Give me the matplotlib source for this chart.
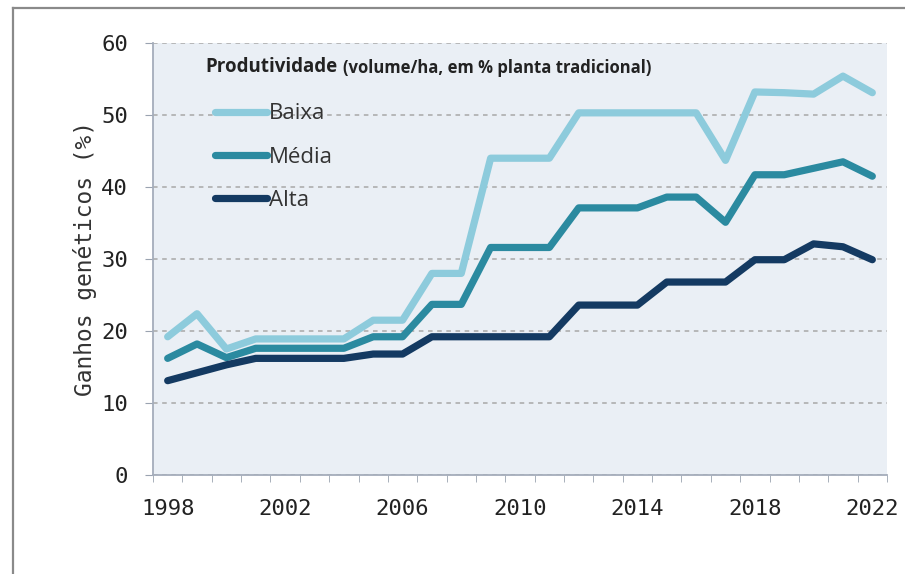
import matplotlib.pyplot as plt
from matplotlib.lines import Line2D
from matplotlib.ticker import MultipleLocator

years = list(range(1998, 2023))
baixa = [19.2, 22.4, 17.5, 18.9, 18.9, 18.9, 18.9, 21.5, 21.5, 28.0, 28.0,
         44.0, 44.0, 44.0, 50.3, 50.3, 50.3, 50.3, 50.3, 43.7, 53.2, 53.1,
         52.9, 55.4, 53.1]
media = [16.2, 18.2, 16.3, 17.6, 17.6, 17.6, 17.6, 19.2, 19.2, 23.7, 23.7,
         31.6, 31.6, 31.6, 37.1, 37.1, 37.1, 38.6, 38.6, 35.1, 41.7, 41.7,
         42.6, 43.5, 41.5]
alta = [13.1, 14.2, 15.3, 16.2, 16.2, 16.2, 16.2, 16.8, 16.8, 19.2, 19.2,
        19.2, 19.2, 19.2, 23.6, 23.6, 23.6, 26.8, 26.8, 26.8, 29.9, 29.9,
        32.1, 31.7, 29.9]
series = [("Baixa", baixa, "#8dcbdc"), ("Média", media, "#2b8aa0"), ("Alta", alta, "#143a62")]
xlabels = [1998, 2002, 2006, 2010, 2014, 2018, 2022]

fig = plt.figure(figsize=(9.05, 5.74), dpi=100)
ax = fig.add_axes([153 / 905, 1 - 475 / 574, 734 / 905, 432 / 574])
ax.set_facecolor("#eaeff5")

for name, vals, col in series:
    ax.plot(years, vals, color=col, lw=5.2, label=name,
            solid_joinstyle="round", solid_capstyle="round")

ax.set_xlim(1997.5, 2022.5)
ax.set_ylim(0, 60)
ax.set_xticks(xlabels)
ax.xaxis.set_minor_locator(MultipleLocator(1, offset=0.5))
ax.yaxis.set_major_locator(MultipleLocator(10))
ax.grid(axis="y", color="#a8a8a8", lw=1.1, ls=(0, (3, 3)))
ax.set_axisbelow(True)

mono = "DejaVu Sans Mono"
ax.tick_params(axis="x", which="major", length=0, pad=17, labelsize=16,
               labelcolor="#222222")
ax.tick_params(axis="x", which="minor", length=5, color="#9aa3b0", direction="out")
ax.tick_params(axis="y", length=6, color="#9aa3b0", pad=12, labelsize=16,
               labelcolor="#222222")
for lab in ax.get_xticklabels() + ax.get_yticklabels():
    lab.set_family(mono)

for s in ["top", "right"]:
    ax.spines[s].set_visible(False)
for s in ["left", "bottom"]:
    ax.spines[s].set_color("#a5adbb")
    ax.spines[s].set_linewidth(1.3)

ax.set_ylabel("Ganhos genéticos (%)", family=mono, fontsize=16.5,
              color="#333333", labelpad=3)

ax.text(0.071, 0.944, "Produtividade", transform=ax.transAxes, fontsize=13.5,
        fontweight="bold", family="Open Sans", color="#222222", va="center")
ax.text(0.259, 0.942, "(volume/ha, em % planta tradicional)", transform=ax.transAxes,
        fontsize=12, fontweight="bold", family="Open Sans", color="#222222",
        va="center")

leg = ax.legend(loc="upper left", bbox_to_anchor=(0.084, 0.86), frameon=False,
                handlelength=2.35, handletextpad=0.08,
                labelspacing=1.0, borderpad=0, borderaxespad=0,
                prop={"family": "Open Sans", "size": 16})
for t in leg.get_texts():
    t.set_color("#333333")

# outer frame of the original picture
fig.add_artist(Line2D([13 / 905, 13 / 905], [0, 1 - 8 / 574], color="#8a8a8a", lw=1.6))
fig.add_artist(Line2D([13 / 905, 1], [1 - 8 / 574, 1 - 8 / 574], color="#8a8a8a", lw=1.6))

fig.savefig("out.png", dpi=100)
